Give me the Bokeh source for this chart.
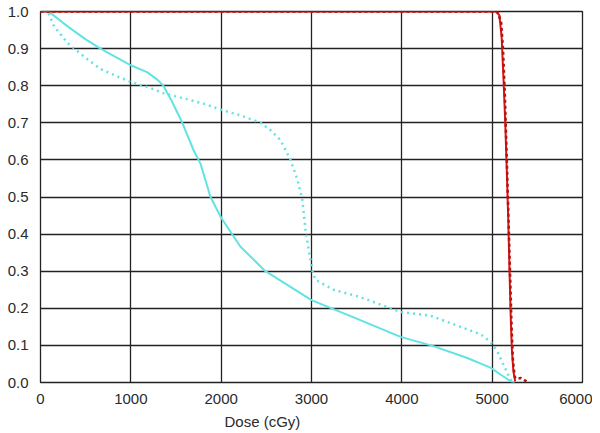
import math
from bokeh.plotting import figure
from bokeh.models import FixedTicker, PrintfTickFormatter, Label, Range1d, Title
from bokeh.embed import file_html
from bokeh.resources import INLINE

# ---- data ----
cyan_solid_dose = [0, 90, 300, 500, 664, 850, 1000, 1185, 1300, 1360, 1450, 1570, 1695,
                   1771, 1882, 2000, 2214, 2490, 3000, 3500, 3986, 4350, 4724, 4982,
                   5092, 5203, 5250]
cyan_solid_vol = [1.0, 1.0, 0.96, 0.925, 0.90, 0.875, 0.855, 0.836, 0.815, 0.80, 0.76,
                  0.70, 0.626, 0.59, 0.50, 0.444, 0.366, 0.30, 0.222, 0.172, 0.123,
                  0.098, 0.066, 0.04, 0.0215, 0.0035, 0.0]

cyan_dot_dose = [90, 150, 300, 500, 664, 850, 1000, 1200, 1360, 1600, 1800, 2000, 2214,
                 2435, 2546, 2657, 2768, 2845, 2900, 2934, 2967, 3011, 3044, 3244, 3543,
                 3986, 4318, 4650, 4871, 4982, 5058, 5125, 5203, 5240]
cyan_dot_vol = [0.995, 0.96, 0.915, 0.875, 0.845, 0.825, 0.81, 0.795, 0.78, 0.765, 0.752,
                0.735, 0.72, 0.70, 0.68, 0.653, 0.60, 0.546, 0.49, 0.41, 0.36, 0.30,
                0.277, 0.25, 0.23, 0.19, 0.18, 0.15, 0.13, 0.11, 0.083, 0.048, 0.008, 0.0]

red_solid_dose = [0, 5040, 5080, 5105, 5125, 5145, 5162, 5178, 5192, 5205, 5218, 5235, 5255]
red_solid_vol = [1.0, 1.0, 0.99, 0.93, 0.82, 0.70, 0.57, 0.44, 0.30, 0.18, 0.09, 0.03, 0.003]

red_dash_dose = [0, 5060, 5100, 5120, 5140, 5160, 5180, 5200, 5215, 5230, 5250, 5270, 5320, 5380]
red_dash_vol = [1.0, 1.0, 0.97, 0.90, 0.78, 0.62, 0.45, 0.28, 0.15, 0.06, 0.015, 0.01, 0.012, 0.003]

x_ticks = [0, 1000, 2000, 3000, 4000, 5000, 6000]
y_ticks = [0.0, 0.1, 0.2, 0.3, 0.4, 0.5, 0.6, 0.7, 0.8, 0.9, 1.0]
x_label = "Dose (cGy)"
y_label = "ω"

FONT = "Liberation Sans"
TXT = "#2a2a2a"

p = figure(width=592, height=433, output_backend="svg", toolbar_location=None,
           x_range=Range1d(0, 6000), y_range=Range1d(0, 1.0),
           min_border_left=40, min_border_right=10, min_border_top=11, min_border_bottom=50)
p.background_fill_color = "white"
p.border_fill_color = "white"
p.outline_line_color = "#222222"
p.outline_line_width = 1.3

for ax in (p.xaxis[0], p.yaxis[0]):
    ax.axis_line_color = None
    ax.major_tick_line_color = None
    ax.minor_tick_line_color = None
    ax.major_label_text_font = FONT
    ax.major_label_text_font_size = "15px"
    ax.major_label_text_color = TXT

p.xaxis[0].ticker = FixedTicker(ticks=x_ticks)
p.yaxis[0].ticker = FixedTicker(ticks=y_ticks)
p.yaxis[0].formatter = PrintfTickFormatter(format="%.1f")
p.xaxis[0].major_label_standoff = 5
p.yaxis[0].major_label_standoff = 6

p.grid.grid_line_color = "#222222"
p.grid.grid_line_width = 1.3
p.grid.grid_line_alpha = 1.0

CYAN = "#62e3e3"
p.line(cyan_solid_dose, cyan_solid_vol, line_color=CYAN, line_width=2)
p.line(cyan_dot_dose, cyan_dot_vol, line_color=CYAN, line_width=2.5, line_dash="2 4")
p.line(red_solid_dose, red_solid_vol, line_color="#e01010", line_width=2)
p.line(red_dash_dose, red_dash_vol, line_color="#b01515", line_width=2.5, line_dash="3 3")

p.add_layout(Title(text=x_label, align="left", offset=184, text_font=FONT,
                   text_font_size="15px", text_font_style="normal", text_color=TXT,
                   standoff=8), "below")
p.add_layout(Label(x=-370, y=0.47, text=y_label, text_font=FONT, text_font_size="12px",
                   text_color=TXT, text_align="center", text_baseline="middle",
                   angle=math.pi / 2))

open("out.html", "w").write(file_html(p, INLINE))
